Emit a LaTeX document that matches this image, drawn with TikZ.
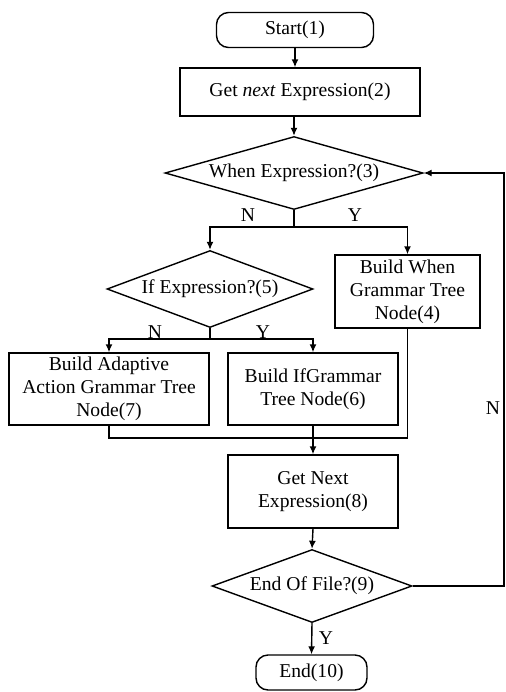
\documentclass[tikz,border=0pt]{standalone}
\usepackage{fontspec}
\setmainfont{Liberation Serif}
\usetikzlibrary{shapes.geometric,arrows.meta}
\begin{document}
\begin{tikzpicture}[x=0.5pt,y=-0.5pt,line width=0.7pt,
  every node/.style={font=\fontsize{9.8}{11.5}\selectfont},
  term/.style={draw,rectangle,rounded corners=6pt,inner sep=0pt,minimum height=17.5pt},
  proc/.style={draw,rectangle,align=center,inner sep=0pt},
  decide/.style={draw,diamond,inner sep=0pt,aspect=#1},
  arr/.style={-{Latex[length=4pt,width=3.5pt]}},
  lbl/.style={inner sep=0pt}]
  \useasboundingbox (0,0) rectangle (506,692);
  % blocks
  \node[term,minimum width=78.5pt] (start) at (295,30) {Start(1)};
  \node[proc,minimum width=120pt,minimum height=24pt] (get2) at (300,92) {Get \textit{next} Expression(2)};
  \node[decide=3.53,minimum width=129pt,minimum height=36.5pt] (when3) at (294,173) {When Expression?(3)};
  \node[decide=2.68,minimum width=103pt,minimum height=38.5pt] (if5) at (210,289) {If Expression?(5)};
  \node[proc,minimum width=72.5pt,minimum height=36.5pt] (when4) at (407.5,291.5) {Build When\\Grammar Tree\\Node(4)};
  \node[proc,minimum width=100pt,minimum height=36pt] (adapt7) at (109,389) {Build Adaptive\\Action Grammar Tree\\Node(7)};
  \node[proc,minimum width=85pt,minimum height=36pt] (if6) at (313,389) {Build IfGrammar\\Tree Node(6)};
  \node[proc,minimum width=85pt,minimum height=36.5pt] (next8) at (313,491.5) {Get Next\\Expression(8)};
  \node[decide=2.74,minimum width=100pt,minimum height=36.5pt] (eof9) at (312,586) {End Of File?(9)};
  \node[term,minimum width=55.5pt] (end10) at (311.5,672.5) {End(10)};
  % junctions
  \coordinate (j1) at (294,227);
  \coordinate (j2) at (210,339);
  \coordinate (j3) at (313,438);
  \coordinate (back) at (504,586);
  % links
  \draw[arr] (start.south) -- (start.south |- get2.north);
  \draw[arr] (when3.north |- get2.south) -- (when3.north);
  \draw (when3.south) -- (j1);
  \draw[arr] (j1) -| (if5.north);
  \draw[arr] (j1) -| (when4.north);
  \draw (if5.south) -- (j2);
  \draw[arr] (j2) -| (adapt7.north);
  \draw[arr] (j2) -| (if6.north);
  \draw (adapt7.south) |- (j3);
  \draw (when4.south) |- (j3);
  \draw[arr] (if6.south) -- (next8.north);
  \draw[arr] (next8.south) -- (eof9.north);
  \draw[arr] (eof9.east) -- (back) |- (when3.east);
  \draw[arr] (eof9.south) -- (end10.north);
  % labels
  \node[lbl] (n3) at (248,215) {N};
  \node[lbl] (y3) at (355,215) {Y};
  \node[lbl] (n5) at (155,332) {N};
  \node[lbl] (y5) at (263,332) {Y};
  \node[lbl] (n9) at (493,408) {N};
  \node[lbl] (y9) at (326,638) {Y};
\end{tikzpicture}
\end{document}
